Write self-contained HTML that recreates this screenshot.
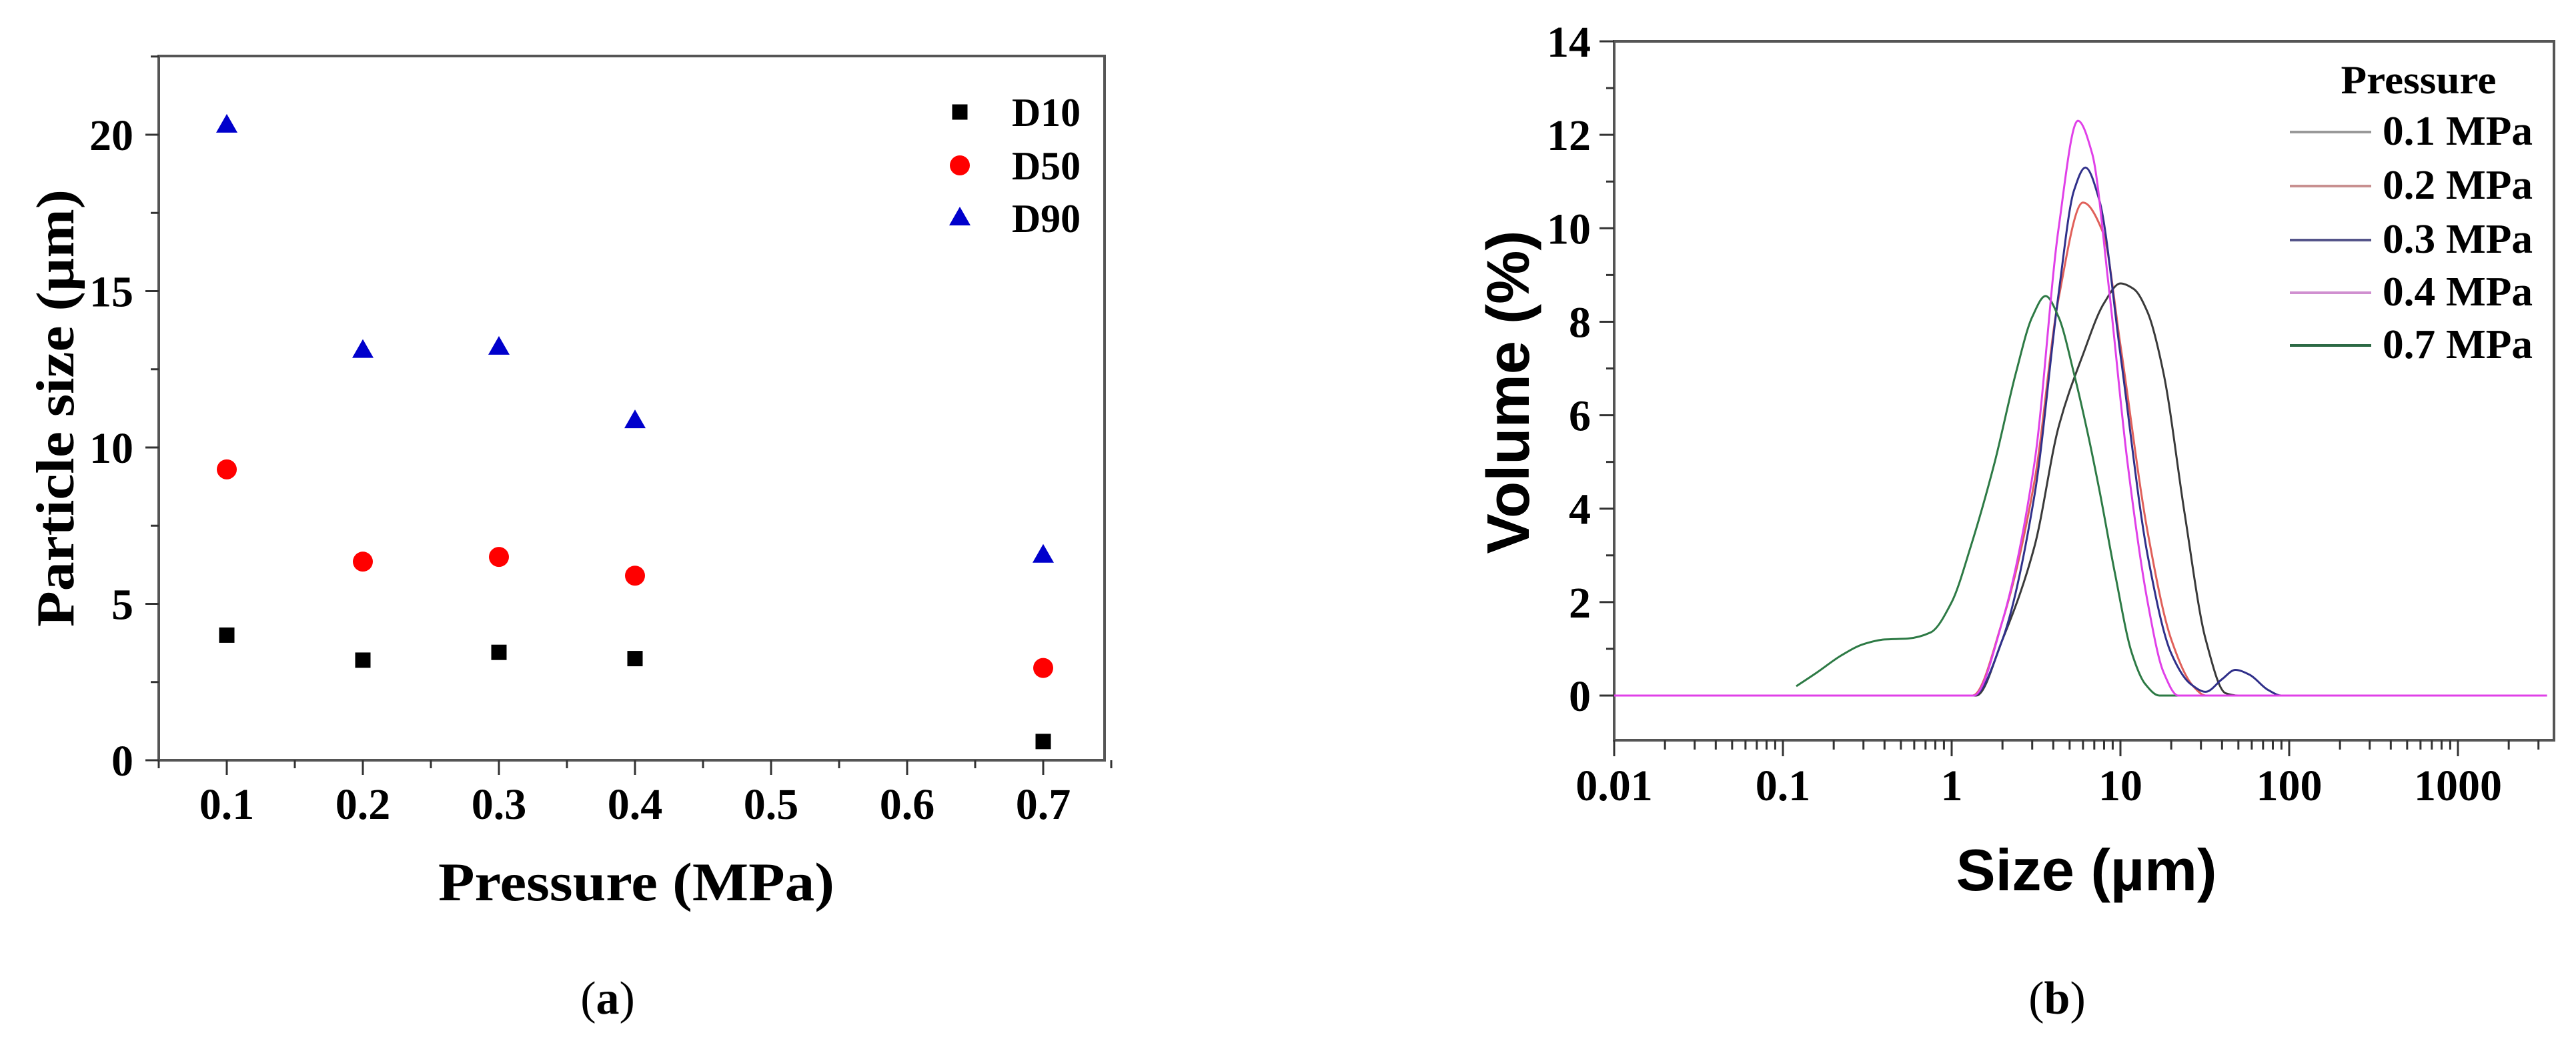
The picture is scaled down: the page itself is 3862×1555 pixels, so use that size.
<!DOCTYPE html>
<html><head><meta charset="utf-8"><style>
html,body{margin:0;padding:0;background:#fff;}
svg{display:block;}
.ser{font-family:"Liberation Serif",serif;font-weight:bold;fill:#000;}
.san{font-family:"Liberation Sans",sans-serif;font-weight:bold;fill:#000;}
</style></head><body>
<svg id="chart" width="3862" height="1555" viewBox="0 0 3862 1555" xmlns="http://www.w3.org/2000/svg">
<g id="left"></g>
<g id="right"></g>
<text x="911" y="1520" font-family="Liberation Serif, serif" font-size="70" text-anchor="middle">(<tspan font-weight="bold">a</tspan>)</text>
<text x="3084" y="1520" font-family="Liberation Serif, serif" font-size="70" text-anchor="middle">(<tspan font-weight="bold">b</tspan>)</text>
</svg>
<script>
// ---- Left chart data ----
const pressures = [0.1, 0.2, 0.3, 0.4, 0.7];
const d10 = [4.0, 3.2, 3.45, 3.25, 0.6];
const d50 = [9.3, 6.35, 6.5, 5.9, 2.95];
const d90 = [20.3, 13.1, 13.2, 10.85, 6.55];
const leftXTicks = ["0.1","0.2","0.3","0.4","0.5","0.6","0.7"];
const leftYTicks = ["0","5","10","15","20"];
const seriesNames = ["D10","D50","D90"];

// ---- Right chart data ----
const rightXTicks = ["0.01","0.1","1","10","100","1000"];
const rightYTicks = ["0","2","4","6","8","10","12","14"];
const legendLabels = ["0.1 MPa","0.2 MPa","0.3 MPa","0.4 MPa","0.7 MPa"];
const size01 = [0.01, 1.4, 2.0, 3.1, 4.3, 6.0, 8.0, 10, 12, 14.5, 18, 24, 32, 42, 50, 3360];
const vol01  = [0, 0, 1.2, 3.2, 5.75, 7.3, 8.4, 8.82, 8.7, 8.2, 6.9, 3.9, 1.2, 0.05, 0, 0];
const size02 = [0.01, 1.33, 2.0, 3.1, 4.3, 6.0, 7.9, 10, 14.5, 20, 27, 32, 3360];
const vol02  = [0, 0, 1.6, 4.6, 8.5, 10.55, 9.9, 7.5, 3.5, 1.2, 0.2, 0, 0];
const size03 = [0.01, 1.35, 2.0, 3.1, 4.3, 5.3, 6.2, 7.5, 10, 14.5, 20, 26, 32, 40, 48, 58, 75, 90, 3360];
const vol03  = [0, 0, 1.2, 4.3, 8.6, 10.8, 11.3, 10.6, 7.3, 3.0, 0.9, 0.25, 0.08, 0.35, 0.55, 0.45, 0.12, 0, 0];
const size04 = [0.01, 1.35, 2.0, 3.1, 4.3, 5.6, 6.8, 8.5, 11, 14.5, 18, 22, 3360];
const vol04  = [0, 0, 1.6, 5.0, 10.0, 12.3, 11.6, 8.8, 5.0, 2.0, 0.5, 0, 0];
const size07 = [0.12, 0.16, 0.22, 0.3, 0.4, 0.55, 0.75, 1.0, 1.3, 1.8, 2.4, 3.0, 3.6, 4.3, 5.3, 6.5, 7.5, 9.3, 11.7, 14, 17, 1950];
const vol07  = [0.2, 0.5, 0.85, 1.1, 1.2, 1.22, 1.35, 2.0, 3.2, 5.0, 6.9, 8.1, 8.55, 8.1, 6.9, 5.5, 4.4, 2.6, 0.9, 0.25, 0, 0];

const NS = "http://www.w3.org/2000/svg";
function mk(parent, tag, attrs, text){
  const e = document.createElementNS(NS, tag);
  for (const k in attrs) e.setAttribute(k, attrs[k]);
  if (text !== undefined) e.textContent = text;
  parent.appendChild(e);
  return e;
}

// ===== LEFT =====
(function(){
  const g = document.getElementById('left');
  const X0 = 238, X1 = 1656, Y0 = 84, Y1 = 1140;
  const xs = v => 238 + (v - 0.05) * 2040;
  const ys = v => 1140 - v * 46.9;
  const ax = "#555";
  let e;
  e = mk(g,'rect',{x:X0,y:Y0,width:X1-X0,height:Y1-Y0,fill:'none',stroke:ax,'stroke-width':4});
  
  
  for (let v=0; v<=22.5; v+=2.5){
    const major = Math.abs(v%5)<1e-9;
    e = mk(g,'line',{x1:X0-(major?20:12),x2:X0,y1:ys(v),y2:ys(v),stroke:'#333','stroke-width':3});
    
    
  }
  leftYTicks.forEach(t=>{
    e = mk(g,'text',{x:200,y:ys(+t)+23,'text-anchor':'end','font-size':66,class:'ser'},t);
    
    
  });
  for (let i=0;i<=14;i++){
    const v = 0.05 + i*0.05;
    const major = i%2===1;
    e = mk(g,'line',{x1:xs(v),x2:xs(v),y1:Y1,y2:Y1+(major?22:12),stroke:'#333','stroke-width':3});
    
    
  }
  leftXTicks.forEach(t=>{
    e = mk(g,'text',{x:xs(+t),y:1228,'text-anchor':'middle','font-size':66,class:'ser'},t);
    
    
  });
  e = mk(g,'text',{x:0,y:0,transform:'translate(110,612) rotate(-90)','text-anchor':'middle','font-size':80,class:'ser',textLength:656,lengthAdjust:'spacingAndGlyphs'},'Particle size (µm)');
  
  
  e = mk(g,'text',{x:954,y:1350,'text-anchor':'middle','font-size':82,class:'ser',textLength:594,lengthAdjust:'spacingAndGlyphs'},'Pressure (MPa)');
  
  

  function marker(parent, kind, cx, cy){
    let m;
    if (kind===0) m = mk(parent,'rect',{x:cx-11.5,y:cy-11.5,width:23,height:23,fill:'#000'});
    else if (kind===1) m = mk(parent,'circle',{cx:cx,cy:cy,r:15,fill:'#ff0000'});
    else m = mk(parent,'polygon',{points:`${cx},${cy-17} ${cx-16},${cy+11} ${cx+16},${cy+11}`,fill:'#0000cc'});
    return m;
  }
  [d10,d50,d90].forEach((arr,si)=>{
    const sg = mk(g,'g',{});
    
    
    arr.forEach((v,i)=>{
      const m = marker(sg, si, xs(pressures[i]), ys(v));
      
      
    });
  });
  const legY = [168,248,327];
  seriesNames.forEach((n,i)=>{
    const lg = mk(g,'g',{});
    
    
    marker(lg, i, 1439, legY[i]);
    mk(lg,'text',{x:1517,y:legY[i]+21,'font-size':60,class:'ser',textLength:103,lengthAdjust:'spacingAndGlyphs'},n);
  });
})();

// ===== RIGHT =====
(function(){
  const g = document.getElementById('right');
  const X0 = 2420, X1 = 3829, Y0 = 62, Y1 = 1110;
  const xs = v => 2420 + (Math.log10(v) + 2) * 253;
  const ys = v => 1043 - v * 70.07;
  let e;
  e = mk(g,'rect',{x:X0,y:Y0,width:X1-X0,height:Y1-Y0,fill:'none',stroke:'#555','stroke-width':4});
  
  
  for (let v=-0; v<=14; v+=1){
    const major = v%2===0;
    e = mk(g,'line',{x1:X0-(major?22:12),x2:X0,y1:ys(v),y2:ys(v),stroke:'#333','stroke-width':3});
    
    
  }
  rightYTicks.forEach(t=>{
    e = mk(g,'text',{x:2385,y:ys(+t)+23,'text-anchor':'end','font-size':66,class:'ser'},t);
    
    
  });
  for (let d=-2; d<=3; d++){
    for (let k=1;k<=9;k++){
      const v = k*Math.pow(10,d);
      if (xs(v) > X1) break;
      e = mk(g,'line',{x1:xs(v),x2:xs(v),y1:Y1,y2:Y1+(k===1?24:14),stroke:'#333','stroke-width':3});
      
      
    }
  }
  rightXTicks.forEach(t=>{
    e = mk(g,'text',{x:xs(+t),y:1200,'text-anchor':'middle','font-size':66,class:'ser'},t);
    
    
  });
  e = mk(g,'text',{x:0,y:0,transform:'translate(2292,588) rotate(-90)','text-anchor':'middle','font-size':90,class:'san',textLength:485,lengthAdjust:'spacingAndGlyphs'},'Volume (%)');
  
  
  e = mk(g,'text',{x:3128,y:1335,'text-anchor':'middle','font-size':88,class:'san',textLength:391,lengthAdjust:'spacingAndGlyphs'},'Size (µm)');
  
  

  function monoPath(px, py){
    const n = px.length, dx=[], m=[], t=[];
    for (let i=0;i<n-1;i++){ dx[i]=px[i+1]-px[i]; m[i]=(py[i+1]-py[i])/dx[i]; }
    t[0]=m[0]; t[n-1]=m[n-2];
    for (let i=1;i<n-1;i++){
      if (m[i-1]*m[i]<=0) t[i]=0;
      else { const w1=2*dx[i]+dx[i-1], w2=dx[i]+2*dx[i-1]; t[i]=(w1+w2)/(w1/m[i-1]+w2/m[i]); }
    }
    let d = `M${px[0].toFixed(1)},${py[0].toFixed(1)}`;
    for (let i=0;i<n-1;i++){
      const h=dx[i]/3;
      d += ` C${(px[i]+h).toFixed(1)},${(py[i]+t[i]*h).toFixed(1)} ${(px[i+1]-h).toFixed(1)},${(py[i+1]-t[i+1]*h).toFixed(1)} ${px[i+1].toFixed(1)},${py[i+1].toFixed(1)}`;
    }
    return d;
  }
  const series = [[size01,vol01,'#3a3a3a'],[size02,vol02,'#e0605a'],[size03,vol03,'#30308a'],[size04,vol04,'#e040e8'],[size07,vol07,'#2d7a45']];
  const order = [1,0,2,4,3];
  order.forEach(si=>{
    const [sx,sv,col] = series[si];
    const p = mk(g,'path',{d:monoPath(sx.map(xs), sv.map(ys)),fill:'none',stroke:col,'stroke-width':3});
    
    
  });
  e = mk(g,'text',{x:3626,y:140,'text-anchor':'middle','font-size':60,class:'ser',textLength:233,lengthAdjust:'spacingAndGlyphs'},'Pressure');
  
  
  const legY = [198,279,360,439,518];
  const legCols = ['#999','#c89090','#55558a','#d090d0','#2d6a45'];
  legendLabels.forEach((l,i)=>{
    const lg = mk(g,'g',{});
    
    
    mk(lg,'line',{x1:3433,x2:3555,y1:legY[i],y2:legY[i],stroke:legCols[i],'stroke-width':4});
    mk(lg,'text',{x:3572,y:legY[i]+19,'font-size':62,class:'ser',textLength:225,lengthAdjust:'spacingAndGlyphs'},l);
  });
})();
</script>
</body></html>
